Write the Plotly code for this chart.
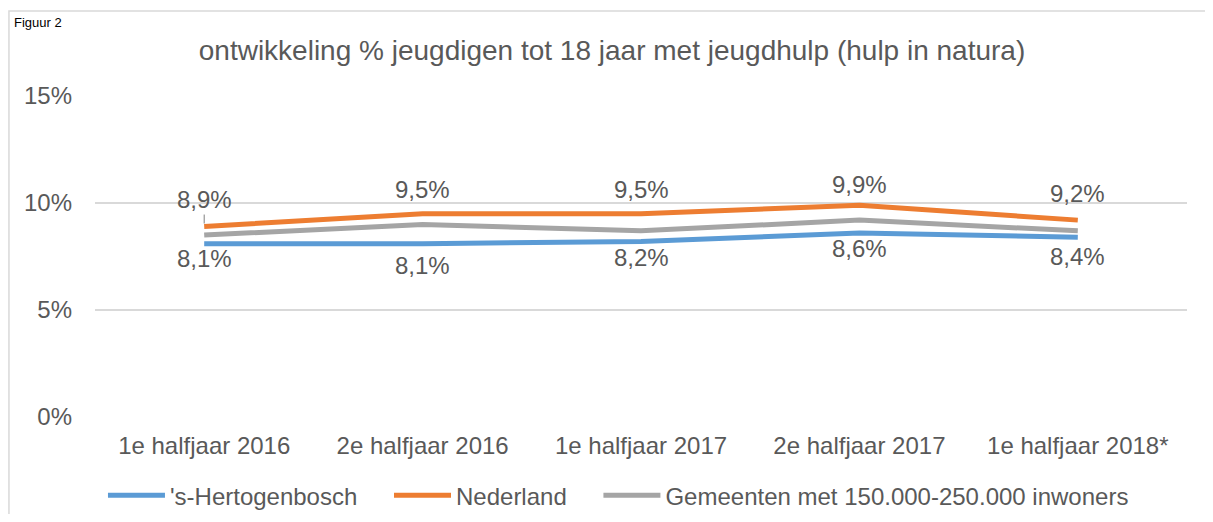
import plotly.graph_objects as go

categories = ["1e halfjaar 2016", "2e halfjaar 2016", "1e halfjaar 2017", "2e halfjaar 2017", "1e halfjaar 2018*"]
den_bosch = [8.1, 8.1, 8.2, 8.6, 8.4]
nederland = [8.9, 9.5, 9.5, 9.9, 9.2]
gemeenten = [8.5, 9.0, 8.7, 9.2, 8.7]
y_ticks = [0, 5, 10, 15]

# label offsets (style)
ned_shift = [27, 24, 24, 21, 27]
bos_shift = [-15, -22, -16, -16, -19]

TXT = "#595959"
FONT = "Liberation Sans, Arial, sans-serif"
FS = 24
PAD = "\u00a0" * 4  # legend spacing

fig = go.Figure()
fig.add_trace(go.Scatter(x=categories, y=den_bosch, mode="lines", name="'s-Hertogenbosch" + PAD,
                         line=dict(color="#5B9BD5", width=5)))
fig.add_trace(go.Scatter(x=categories, y=nederland, mode="lines", name="Nederland" + PAD,
                         line=dict(color="#ED7D31", width=5)))
fig.add_trace(go.Scatter(x=categories, y=gemeenten, mode="lines", name="Gemeenten met 150.000-250.000 inwoners",
                         line=dict(color="#A5A5A5", width=5)))

def fmt(v):
    return f"{v:.1f}".replace(".", ",") + "%"

for i, (c, v) in enumerate(zip(categories, nederland)):
    if i == 0:
        fig.add_annotation(x=c, y=v, text=fmt(v), showarrow=True, arrowhead=0, arrowwidth=1,
                           arrowcolor="#7F7F7F", ax=0, ay=-ned_shift[i], standoff=3,
                           font=dict(size=FS, color=TXT, family=FONT))
    else:
        fig.add_annotation(x=c, y=v, text=fmt(v), showarrow=False, yshift=ned_shift[i],
                           font=dict(size=FS, color=TXT, family=FONT))
for i, (c, v) in enumerate(zip(categories, den_bosch)):
    fig.add_annotation(x=c, y=v, text=fmt(v), showarrow=False, yshift=bos_shift[i],
                       font=dict(size=FS, color=TXT, family=FONT))

# Figuur caption
fig.add_annotation(xref="paper", yref="paper", x=-0.076, y=1.259, xanchor="left", yanchor="top",
                   text="Figuur 2", showarrow=False, font=dict(size=13, color="#000000", family=FONT))

# chart frame
fig.add_shape(type="rect", xref="paper", yref="paper", x0=-0.0788, x1=1.2, y0=-0.6, y1=1.2646,
              line=dict(color="#D9D9D9", width=1.5), layer="below")

fig.update_layout(
    width=1197, height=506,
    margin=dict(l=87, r=18, t=88, b=97, autoexpand=False),
    paper_bgcolor="white", plot_bgcolor="white",
    font=dict(family=FONT, color=TXT, size=FS),
    title=dict(text="ontwikkeling % jeugdigen tot 18 jaar met jeugdhulp (hulp in natura)",
               x=0.5046, xanchor="center", y=0.917, yanchor="middle",
               font=dict(size=28, color=TXT, family=FONT)),
    showlegend=True,
    legend=dict(orientation="h", x=0.0073, xanchor="left", y=-0.245, yanchor="middle",
                font=dict(size=FS, color=TXT, family=FONT), itemwidth=57,
                traceorder="normal"),
    xaxis=dict(showgrid=False, showline=False, zeroline=False, ticks="", automargin=False,
               range=[-0.5, 4.5], tickfont=dict(size=FS, color=TXT), ticklabelstandoff=12),
    yaxis=dict(range=[0, 15], tickvals=y_ticks, ticktext=[f"{t}%" for t in y_ticks], automargin=False,
               showgrid=True, gridcolor="#D9D9D9", gridwidth=1.5, zeroline=False, showline=False,
               tickfont=dict(size=FS, color=TXT), ticklabelstandoff=22),
)

fig.write_html("out.html")
